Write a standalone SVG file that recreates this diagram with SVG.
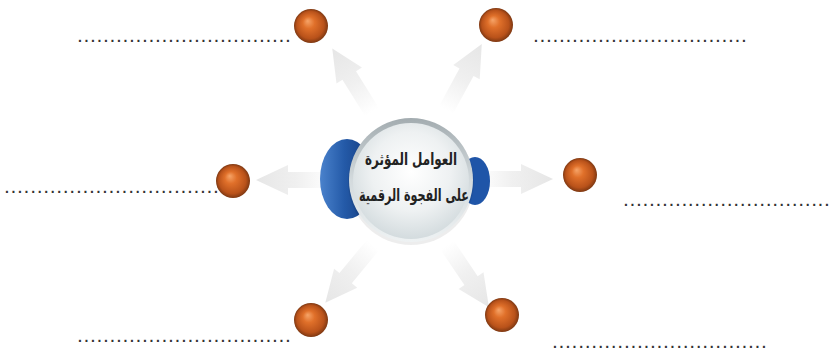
<svg xmlns="http://www.w3.org/2000/svg" width="830" height="351" viewBox="0 0 830 351">
<defs>
<linearGradient id="arrowGrad" x1="0" y1="0" x2="75" y2="0" gradientUnits="userSpaceOnUse">
<stop offset="0" stop-color="#ffffff"/>
<stop offset="0.45" stop-color="#f0f0f0"/>
<stop offset="1" stop-color="#e6e6e6"/>
</linearGradient>
<radialGradient id="ballGrad" cx="0.5" cy="0.5" r="0.5" fx="0.4" fy="0.35">
<stop offset="0" stop-color="#f6a468"/>
<stop offset="0.35" stop-color="#e0702a"/>
<stop offset="0.8" stop-color="#b9521a"/>
<stop offset="1" stop-color="#7e3812"/>
</radialGradient>
<linearGradient id="blueGrad" x1="0" y1="0" x2="1" y2="0">
<stop offset="0" stop-color="#4a82cc"/>
<stop offset="0.45" stop-color="#245aa8"/>
<stop offset="1" stop-color="#12387a"/>
</linearGradient>
<linearGradient id="ringGrad" x1="0" y1="0" x2="0" y2="1">
<stop offset="0" stop-color="#a3acb0"/>
<stop offset="0.5" stop-color="#d3dadd"/>
<stop offset="1" stop-color="#eef2f3"/>
</linearGradient>
<radialGradient id="faceGrad" cx="0.5" cy="0.42" r="0.62">
<stop offset="0" stop-color="#ffffff"/>
<stop offset="0.55" stop-color="#eef1f2"/>
<stop offset="1" stop-color="#cfd8db"/>
</radialGradient>
<path id="arrow" d="M0,-8 L43,-8 L43,-15 L75,0 L43,15 L43,8 L0,8 Z"/>
<style>
.arr{fill:url(#arrowGrad);}
.ball{fill:url(#ballGrad);}
.dots{font-family:"Liberation Sans",Arial,sans-serif;font-size:14px;font-weight:bold;fill:#333;}
.title{font-family:"DejaVu Sans",sans-serif;font-weight:bold;font-size:17px;fill:#222;text-anchor:middle;}
</style>
</defs>
<rect width="830" height="351" fill="#ffffff"/>
<g id="connectors">
<use href="#arrow" class="arr" transform="translate(372,112) rotate(-122)"/>
<use href="#arrow" class="arr" transform="translate(446,110) rotate(-61.5)"/>
<use href="#arrow" class="arr" transform="translate(331,180) rotate(180)"/>
<use href="#arrow" class="arr" transform="translate(478,179)"/>
<use href="#arrow" class="arr" transform="translate(373,245) rotate(129.5)"/>
<use href="#arrow" class="arr" transform="translate(447,245) rotate(56)"/>
</g>
<g id="center">
<ellipse cx="347" cy="179" rx="27" ry="40" fill="url(#blueGrad)"/>
<ellipse cx="475" cy="181" rx="15" ry="24" fill="#1f55a8"/>
<circle cx="411" cy="182" r="63" fill="#000" opacity="0.07"/>
<circle cx="411" cy="180" r="62" fill="url(#ringGrad)"/>
<circle cx="411" cy="181" r="58" fill="url(#faceGrad)"/>
<text class="title" x="411" y="165" textLength="92" lengthAdjust="spacingAndGlyphs">العوامل المؤثرة</text>
<text class="title" x="414" y="201" textLength="110" lengthAdjust="spacingAndGlyphs">على الفجوة الرقمية</text>
</g>
<g id="n1"><circle class="ball" cx="311" cy="26" r="17"/><text class="dots" x="78" y="42" textLength="212" lengthAdjust="spacing">.................................</text></g>
<g id="n2"><circle class="ball" cx="496" cy="25" r="17"/><text class="dots" x="534" y="42" textLength="212" lengthAdjust="spacing">.................................</text></g>
<g id="n3"><circle class="ball" cx="233" cy="181" r="17"/><text class="dots" x="5" y="193" textLength="213" lengthAdjust="spacing">.................................</text></g>
<g id="n4"><circle class="ball" cx="580" cy="175" r="17"/><text class="dots" x="624" y="206" textLength="205" lengthAdjust="spacing">................................</text></g>
<g id="n5"><circle class="ball" cx="311" cy="320" r="17"/><text class="dots" x="78" y="342" textLength="212" lengthAdjust="spacing">.................................</text></g>
<g id="n6"><circle class="ball" cx="502" cy="315" r="17"/><text class="dots" x="553" y="348" textLength="213" lengthAdjust="spacing">.................................</text></g>
</svg>
